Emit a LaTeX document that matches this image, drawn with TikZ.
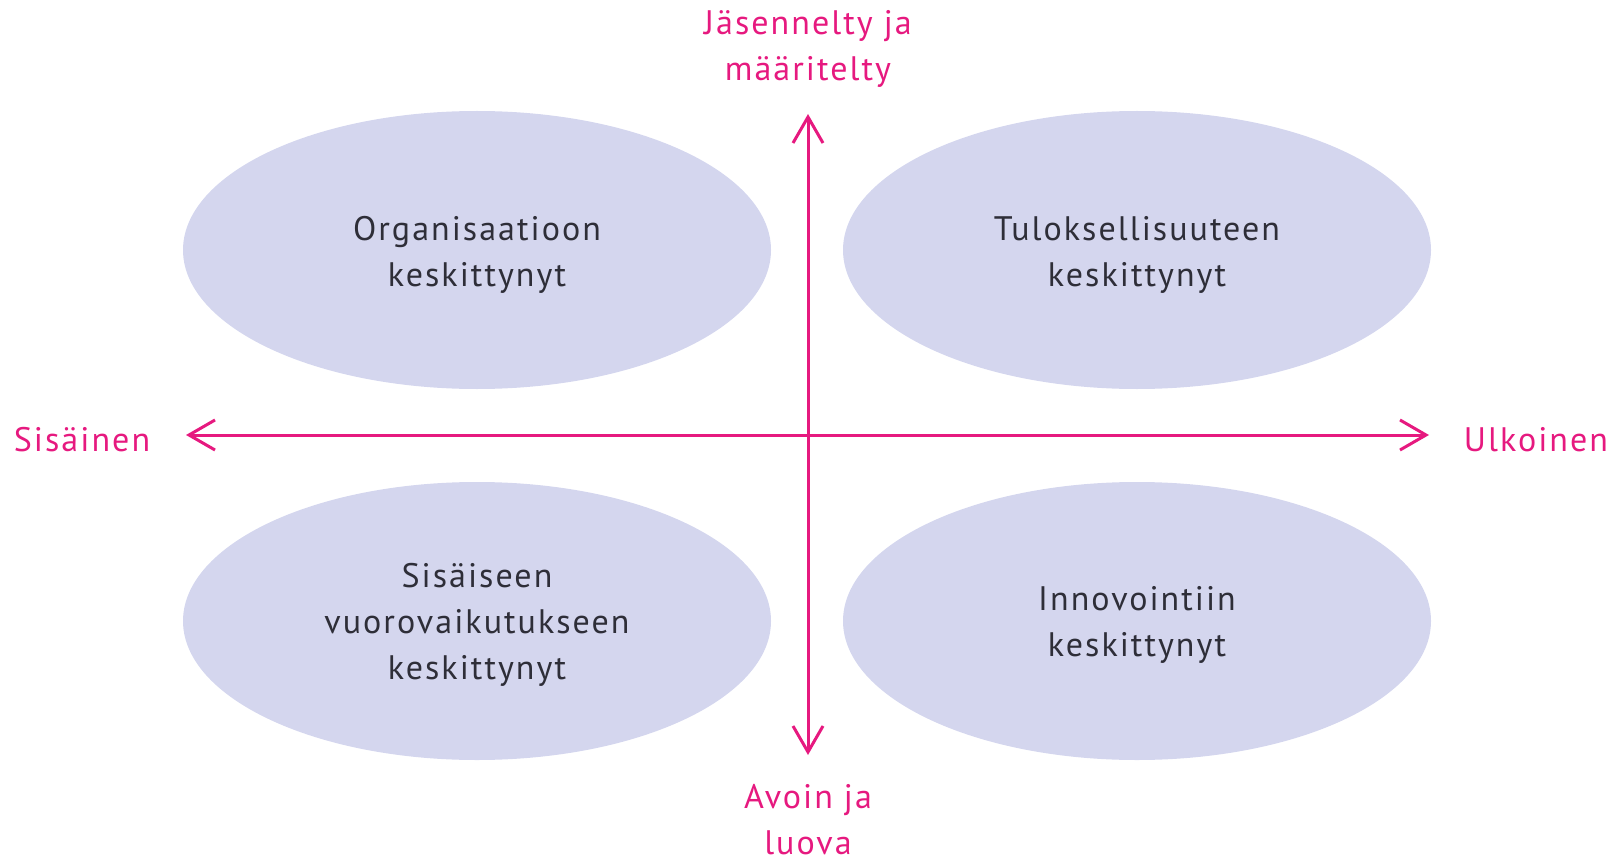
\documentclass[tikz,border=0pt]{standalone}
\usepackage{fontspec}
\setmainfont{PT Sans}[LetterSpace=6]
\usetikzlibrary{arrows.meta,shapes.geometric}
\definecolor{pinkaxis}{HTML}{E6197F}
\definecolor{ellfill}{HTML}{D4D6EE}
\definecolor{txt}{HTML}{2E2E38}
\tikzset{
  quad/.style={ellipse, fill=ellfill, minimum width=588pt, minimum height=278pt, inner sep=0pt},
  quadtext/.style={text=txt, align=center, font=\fontsize{34}{46}\selectfont},
  axislabel/.style={text=pinkaxis, align=center, font=\fontsize{34}{46}\selectfont},
  axis/.style={draw=pinkaxis, line width=3pt, {Straight Barb[length=26pt,width=30pt,line width=3pt]}-{Straight Barb[length=26pt,width=30pt,line width=3pt]}}
}
\begin{document}
\begin{tikzpicture}[x=1pt,y=-1pt]
\useasboundingbox (0,0) rectangle (1622,861);
\node[quad] (tl) at (477,250) {};
\node[quad] (tr) at (1137,250) {};
\node[quad] (bl) at (477,621) {};
\node[quad] (br) at (1137,621) {};
\node[quadtext] (ttl) at (477,255) {Organisaatioon\\keskittynyt};
\node[quadtext] (ttr) at (1137,255) {Tuloksellisuuteen\\keskittynyt};
\node[quadtext] (tbl) at (477,625) {Sisäiseen\\vuorovaikutukseen\\keskittynyt};
\node[quadtext] (tbr) at (1137,625) {Innovointiin\\keskittynyt};
\coordinate (top) at (808,114);
\coordinate (bot) at (808,755);
\coordinate (left) at (186,435);
\coordinate (right) at (1429,435);
\draw[axis] (bot) -- (top);
\draw[axis] (left) -- (right);
\node[axislabel] (ltop) at (808,49) {Jäsennelty ja\\määritelty};
\node[axislabel] (lbot) at (808,820) {Avoin ja\\luova};
\node[axislabel] (lleft) at (82,440) {Sisäinen};
\node[axislabel] (lright) at (1536,440) {Ulkoinen};
\end{tikzpicture}
\end{document}
